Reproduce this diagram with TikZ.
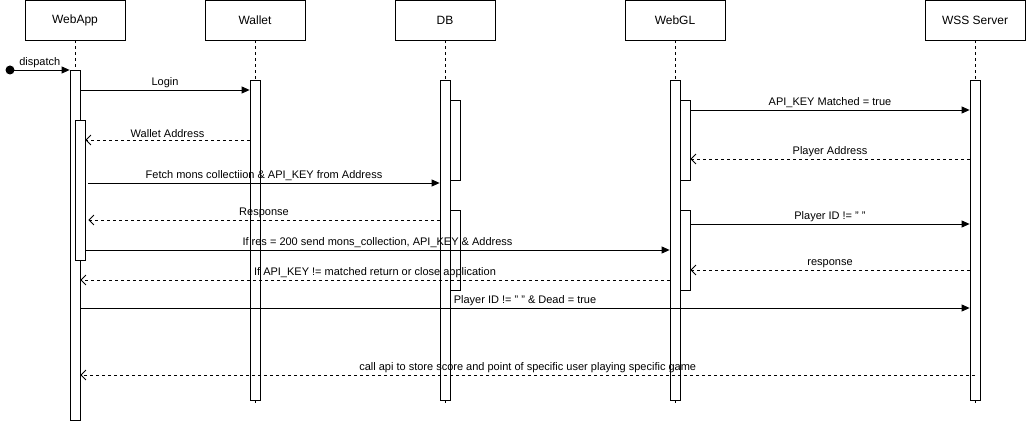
\documentclass[tikz,border=0pt]{standalone}
\usepackage{fontspec}
\setmainfont{Liberation Sans}
\usetikzlibrary{
    arrows.meta,
    positioning
}
\tikzset{
    head/.style={draw, line width=0.8pt, minimum width=100pt, minimum height=40pt, inner sep=0pt, font=\fontsize{12}{14}\selectfont},
    lifeline/.style={line width=0.8pt, dash pattern=on 3pt off 3pt},
    act/.style={draw, line width=0.8pt, fill=white, minimum width=10pt, inner sep=0pt, anchor=north},
    call/.style={line width=0.8pt, -{Triangle[length=8pt, width=7pt]}},
    reply/.style={line width=0.8pt, dash pattern=on 3pt off 3pt, -{Straight Barb[length=5pt, width=10pt]}},
    lbl/.style={above, inner sep=1.5pt, font=\fontsize{11}{13}\selectfont}
}
\begin{document}
\begin{tikzpicture}[x=1pt, y=-1pt]
                                \useasboundingbox (0, 0) rectangle (1026, 422);
                                \foreach \name/\title/\x in {webapp/WebApp/75, wallet/Wallet/255, db/DB/445, webgl/WebGL/675, wss/WSS Server/975} {
                                    \node[head] (\name) at (\x, 20) {\title};
                                    \draw[lifeline] (\name.south) -- (\name |- 0,405);
                                }
                                \node[act, minimum height=350pt] (webapp-act) at (75, 70) {};
                                \foreach \name/\x in {wallet/255, db/445, webgl/675, wss/975} {
                                    \node[act, minimum height=320pt] (\name-act) at (\x, 80) {};
                                }
                                \node[act, minimum height=140pt] (webapp-sub) at (80, 120) {};
                                \node[act, minimum height=80pt] (db-sub1) at (455, 100) {};
                                \node[act, minimum height=80pt] (db-sub2) at (455, 210) {};
                                \node[act, minimum height=80pt] (webgl-sub1) at (685, 100) {};
                                \node[act, minimum height=80pt] (webgl-sub2) at (685, 210) {};
                                \node[circle, fill, minimum size=9pt, inner sep=0pt] (start) at (10, 70) {};
                                \draw[call] (start.center) -- node[lbl] {dispatch} (webapp-act.north west);
                                \draw[call] (webapp-act.east |- 0,90) -- node[lbl] {Login} (wallet-act.west |- 0,90);
                                \draw[reply] (wallet-act.west |- 0,140) -- node[lbl] {Wallet Address} (webapp-sub.east |- 0,140);
                                \draw[call] ([xshift=3pt]webapp-sub.east |- 0,183) -- node[lbl] {Fetch mons collectiion \& API\_KEY from Address} (db-act.west |- 0,183);
                                \draw[reply] (db-act.west |- 0,220) -- node[lbl] {Response} ([xshift=3pt]webapp-sub.east |- 0,220);
                                \draw[call] (webapp-sub.east |- 0,250) -- node[lbl] {If res = 200 send mons\_collection, API\_KEY \& Address} (webgl-act.west |- 0,250);
                                \draw[call] (webgl-sub1.east |- 0,110) -- node[lbl] {API\_KEY Matched = true} (wss-act.west |- 0,110);
                                \draw[reply] (wss-act.west |- 0,159) -- node[lbl] {Player Address} (webgl-sub1.east |- 0,159);
                                \draw[call] (webgl-sub2.east |- 0,224) -- node[lbl] {Player ID != " "} (wss-act.west |- 0,224);
                                \draw[reply] (wss-act.west |- 0,270) -- node[lbl] {response} (webgl-sub2.east |- 0,270);
                                \draw[reply] (webgl-act.west |- 0,280) -- node[lbl] {If API\_KEY != matched return or close application} (webapp-act.east |- 0,280);
                                \draw[call] (webapp-act.east |- 0,308) -- node[lbl] {Player ID != " " \& Dead = true} (wss-act.west |- 0,308);
                                \draw[reply] (wss-act |- 0,375) -- node[lbl] {call api to store score and point of specific user playing specific game} (webapp-act.east |- 0,375);
                            \end{tikzpicture}
\end{document}
